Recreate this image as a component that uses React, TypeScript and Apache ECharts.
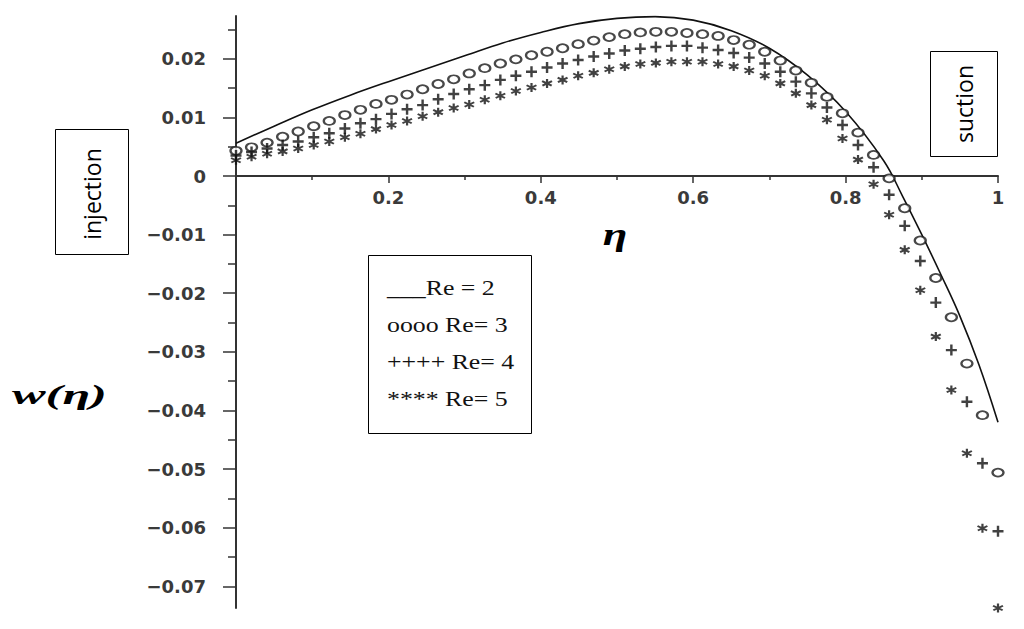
import React, { useEffect, useRef } from "react";
import * as echarts from "echarts";

// eta grid of the marker series (50 points)
const eta = [
  0, 0.0204, 0.0408, 0.0612, 0.0816, 0.102, 0.1224, 0.1429, 0.1633, 0.1837,
  0.2041, 0.2245, 0.2449, 0.2653, 0.2857, 0.3061, 0.3265, 0.3469, 0.3673, 0.3878,
  0.4082, 0.4286, 0.449, 0.4694, 0.4898, 0.5102, 0.5306, 0.551, 0.5714, 0.5918,
  0.6122, 0.6327, 0.6531, 0.6735, 0.6939, 0.7143, 0.7347, 0.7551, 0.7755, 0.7959,
  0.8163, 0.8367, 0.8571, 0.8776, 0.898, 0.9184, 0.9388, 0.9592, 0.9796, 1,
];

// Re = 3 (circles)
const wRe3 = [
  0.0043, 0.0049, 0.0057, 0.0067, 0.0076, 0.0085, 0.0094, 0.0104, 0.0113, 0.0123,
  0.013, 0.0139, 0.0148, 0.0157, 0.0165, 0.0175, 0.0184, 0.0192, 0.0199, 0.0206,
  0.0212, 0.0218, 0.0225, 0.0231, 0.0237, 0.0242, 0.0245, 0.0246, 0.0246, 0.0244,
  0.0242, 0.0239, 0.0232, 0.0224, 0.0212, 0.0197, 0.018, 0.0159, 0.0135, 0.0107,
  0.0074, 0.0036, -0.0004, -0.0055, -0.011, -0.0174, -0.0241, -0.032, -0.0408, -0.0506,
];

// Re = 4 (plus)
const wRe4 = [
  0.0035, 0.0041, 0.0047, 0.0053, 0.0059, 0.0066, 0.0073, 0.0081, 0.009, 0.0097,
  0.0106, 0.0114, 0.0121, 0.0131, 0.014, 0.0148, 0.0155, 0.0164, 0.0171, 0.0178,
  0.0185, 0.0192, 0.0198, 0.0204, 0.0209, 0.0214, 0.0217, 0.022, 0.0222, 0.0222,
  0.0219, 0.0215, 0.021, 0.0202, 0.0192, 0.0178, 0.0161, 0.0141, 0.0117, 0.0087,
  0.0053, 0.0015, -0.0032, -0.0085, -0.0145, -0.0216, -0.0297, -0.0385, -0.049, -0.0606,
];

// Re = 5 (asterisk)
const wRe5 = [
  0.0027, 0.0033, 0.0038, 0.0042, 0.0047, 0.0053, 0.0059, 0.0066, 0.0072, 0.008,
  0.0087, 0.0094, 0.0102, 0.0109, 0.0116, 0.0122, 0.013, 0.0137, 0.0145, 0.0151,
  0.0158, 0.0164, 0.0171, 0.0176, 0.0182, 0.0187, 0.0191, 0.0193, 0.0195, 0.0195,
  0.0195, 0.0191, 0.0187, 0.018, 0.0171, 0.0158, 0.0141, 0.0121, 0.0096, 0.0064,
  0.0028, -0.0014, -0.0066, -0.0126, -0.0195, -0.0274, -0.0365, -0.0473, -0.0601, -0.0737,
];

// Re = 2 (solid line)
const solidEta = [
  0, 0.05, 0.1, 0.15, 0.2, 0.25, 0.3, 0.35, 0.4, 0.45, 0.5, 0.55, 0.6, 0.65, 0.7,
  0.75, 0.8, 0.85, 0.875, 0.9, 0.925, 0.95, 0.975, 1,
];
const solidW = [
  0.0056, 0.0085, 0.0113, 0.0138, 0.0161, 0.0183, 0.0205, 0.0227, 0.0245, 0.026,
  0.0269, 0.0272, 0.0266, 0.0248, 0.0218, 0.0172, 0.011, 0.0026, -0.0035, -0.01,
  -0.0168, -0.0239, -0.0322, -0.042,
];

const yMin = -0.0737;
const yMax = 0.0273;
const yMajorTicks = [-0.07, -0.06, -0.05, -0.04, -0.03, -0.02, -0.01, 0, 0.01, 0.02];
const yMinorTicks = [-0.065, -0.055, -0.045, -0.035, -0.025, -0.015, -0.005, 0.005, 0.015, 0.025];
const xMajorTicks = [0.2, 0.4, 0.6, 0.8, 1];
const xMinorTicks = [0.1, 0.3, 0.5, 0.7, 0.9];
const legendLines = ["___Re = 2", "oooo Re= 3", "++++ Re= 4", "**** Re= 5"];
const seriesNames = ["Re = 2", "Re = 3", "Re = 4", "Re = 5"];

const PLUS = "path://M3.9,0H6.1V3.9H10V6.1H6.1V10H3.9V6.1H0V3.9H3.9Z";
const STAR =
  "path://M4,0L6,0L6,10L4,10Z M1.03,1.63L9.69,6.63L8.69,8.37L0.03,3.37Z M8.97,1.63L9.97,3.37L1.31,8.37L0.31,6.63Z";

const AX = "#333";

const GRID_TOP = 16;
const GRID_BOTTOM_PX = 608;
const CHART_H = 629;

function fmtY(v: number) {
  const r = Math.round(v * 1000) / 1000;
  if (Math.abs(r) < 1e-9) return "0";
  return (r < 0 ? "\u2212" : "") + Math.abs(r).toFixed(2);
}
function fmtX(v: number) {
  const r = Math.round(v * 10) / 10;
  if (Math.abs(r - 1) < 1e-9) return "1";
  return r.toFixed(1);
}

export default function App() {
  const ref = useRef<HTMLDivElement>(null);
  useEffect(() => {
    const chart = echarts.init(ref.current!, null, { renderer: "svg" });
    const labelFont = {
      fontFamily: "DejaVu Sans",
      fontWeight: "bold" as const,
      fontSize: 18,
      color: "#3a3a3a",
    };
    // pixel distance from the grid bottom up to w = 0
    const zeroOffset = -((0 - yMin) / (yMax - yMin)) * (GRID_BOTTOM_PX - GRID_TOP);
    chart.setOption({
      animation: false,
      backgroundColor: "#fff",
      grid: { left: 236, right: 26, top: GRID_TOP, bottom: CHART_H - GRID_BOTTOM_PX, containLabel: false },
      xAxis: [
        {
          type: "value",
          min: 0,
          max: 1,
          position: "bottom",
          offset: zeroOffset,
          axisLine: { show: true, onZero: false, lineStyle: { color: AX, width: 2 } },
          axisTick: { show: true, customValues: xMajorTicks, length: 7, lineStyle: { color: AX, width: 1.5 } },
          axisLabel: { show: true, customValues: xMajorTicks, margin: 12, formatter: fmtX, ...labelFont },
          splitLine: { show: false },
        },
        {
          type: "value",
          min: 0,
          max: 1,
          position: "bottom",
          offset: zeroOffset,
          axisLine: { show: false, onZero: false },
          axisTick: { show: true, customValues: xMinorTicks, length: 4, lineStyle: { color: AX, width: 1.5 } },
          axisLabel: { show: false },
          splitLine: { show: false },
        },
      ],
      yAxis: [
        {
          type: "value",
          min: yMin,
          max: yMax,
          position: "left",
          axisLine: { show: true, onZero: false, lineStyle: { color: AX, width: 2 } },
          axisTick: { show: true, customValues: yMajorTicks, length: 13, lineStyle: { color: AX, width: 1.5 } },
          axisLabel: { show: true, customValues: yMajorTicks, margin: 30, formatter: fmtY, ...labelFont },
          splitLine: { show: false },
        },
        {
          type: "value",
          min: yMin,
          max: yMax,
          position: "left",
          axisLine: { show: false, onZero: false },
          axisTick: { show: true, customValues: yMinorTicks, length: 8, lineStyle: { color: AX, width: 1.5 } },
          axisLabel: { show: false },
          splitLine: { show: false },
        },
      ],
      series: [
        {
          name: seriesNames[0],
          type: "line",
          data: solidEta.map((x, i) => [x, solidW[i]]),
          smooth: 0.4,
          showSymbol: false,
          lineStyle: { color: "#111", width: 1.6 },
          z: 2,
        },
        {
          name: seriesNames[1],
          type: "scatter",
          data: eta.map((x, i) => [x, wRe3[i]]),
          symbol: "emptyCircle",
          symbolSize: [11, 8],
          itemStyle: { color: "#1a1a1a", borderWidth: 1.5 },
          z: 3,
        },
        {
          name: seriesNames[2],
          type: "scatter",
          data: eta.map((x, i) => [x, wRe4[i]]),
          symbol: PLUS,
          symbolSize: [11, 11],
          itemStyle: { color: "#111" },
          z: 3,
        },
        {
          name: seriesNames[3],
          type: "scatter",
          data: eta.map((x, i) => [x, wRe5[i]]),
          symbol: STAR,
          symbolSize: [11, 9],
          itemStyle: { color: "#111" },
          z: 3,
        },
      ],
      graphic: [
        // injection box
        {
          type: "rect",
          shape: { x: 55.5, y: 129.5, width: 73, height: 125 },
          style: { fill: "#fff", stroke: "#000", lineWidth: 1 },
          z: 10,
        },
        {
          type: "text",
          x: 92,
          y: 194,
          rotation: Math.PI / 2,
          style: {
            text: "injection",
            fontFamily: "Open Sans",
            fontSize: 23,
            fill: "#000",
            align: "center",
            verticalAlign: "middle",
          },
          z: 11,
        },
        // suction box
        {
          type: "rect",
          shape: { x: 930.5, y: 51.5, width: 67, height: 105 },
          style: { fill: "#fff", stroke: "#000", lineWidth: 1 },
          z: 10,
        },
        {
          type: "text",
          x: 964,
          y: 104,
          rotation: Math.PI / 2,
          style: {
            text: "suction",
            fontFamily: "Open Sans",
            fontSize: 23,
            fill: "#000",
            align: "center",
            verticalAlign: "middle",
          },
          z: 11,
        },
        // legend box
        {
          type: "rect",
          shape: { x: 368.5, y: 255.5, width: 163, height: 178 },
          style: { fill: "#fff", stroke: "#000", lineWidth: 1 },
          z: 10,
        },
        {
          type: "group",
          x: 387,
          y: 0,
          scaleX: 1.23,
          z: 11,
          children: legendLines.map((t, i) => ({
            type: "text",
            x: 0,
            y: [288, 325, 362, 399][i],
            style: {
              text: t,
              fontFamily: "Liberation Serif",
              fontSize: 21,
              fill: "#111",
              align: "left",
              verticalAlign: "middle",
            },
            z: 11,
          })),
        },
        // axis names
        {
          type: "group",
          x: 615,
          y: 0,
          scaleX: 1.4,
          children: [
            {
              type: "text",
              x: 0,
              y: 234,
              style: {
                text: "\u03B7",
                fontFamily: "Liberation Serif",
                fontWeight: "bold",
                fontStyle: "italic",
                fontSize: 32,
                fill: "#000",
                align: "center",
                verticalAlign: "middle",
              },
            },
          ],
        },
        {
          type: "group",
          x: 12,
          y: 0,
          scaleX: 1.8,
          children: [
            {
              type: "text",
              x: 0,
              y: 395,
              style: {
                text: "w(\u03B7)",
                fontFamily: "Liberation Serif",
                fontWeight: "bold",
                fontStyle: "italic",
                fontSize: 28,
                fill: "#000",
                align: "left",
                verticalAlign: "middle",
              },
            },
          ],
        },
      ],
    });
    return () => chart.dispose();
  }, []);
  return (
    <div
      ref={ref}
      style={{ position: "fixed", left: 0, top: 0, width: 1024, height: 629, background: "#fff" }}
    />
  );
}
